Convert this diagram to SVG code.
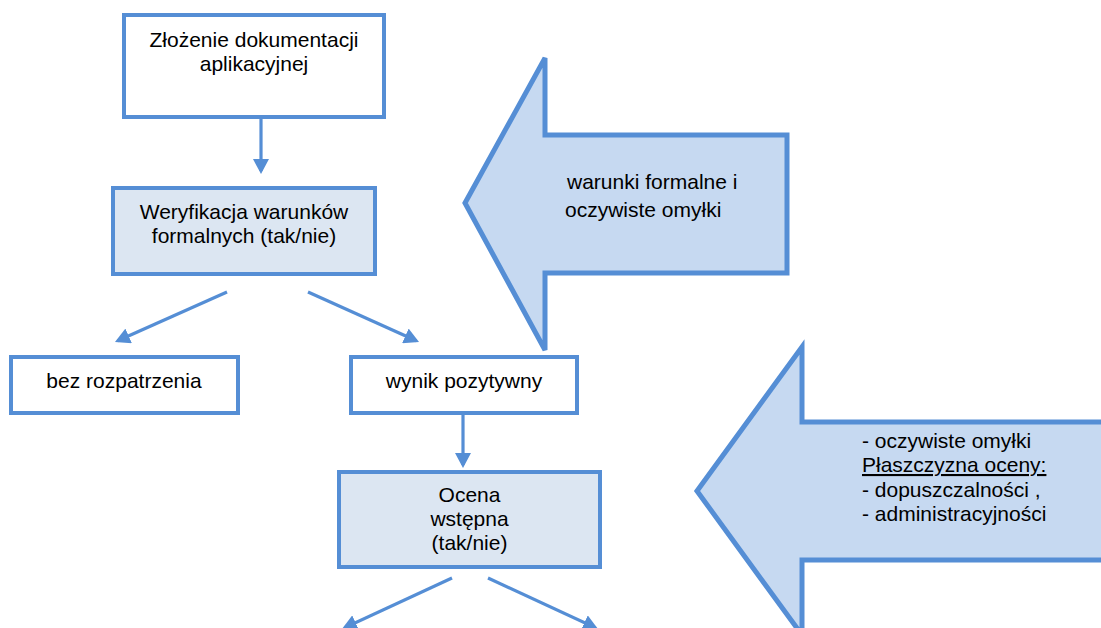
<svg xmlns="http://www.w3.org/2000/svg" width="1101" height="628" viewBox="0 0 1101 628">
<style>
text{font-family:"Liberation Sans",Arial,sans-serif;font-size:21px;fill:#000}
.c{text-anchor:middle}
.box{fill:#fff;stroke:#558ED5;stroke-width:4}
.boxf{fill:#DCE6F2;stroke:#558ED5;stroke-width:4}
.big{fill:#C6D9F1;stroke:#558ED5;stroke-width:5;stroke-linejoin:miter}
.con{stroke:#558ED5;stroke-width:3.2;fill:none}
</style>
<defs>
<marker id="ah" markerUnits="userSpaceOnUse" markerWidth="16" markerHeight="16" refX="12" refY="8" orient="auto">
<path d="M0,0 L15,8 L0,16 z" fill="#558ED5"/>
</marker>
</defs>
<g id="arrow-formal">
<polygon class="big" points="465,203 545,58 545,135 787,135 787,273 545,273 545,350"/>
<text x="567" y="189">warunki formalne i</text>
<text x="565" y="217">oczywiste omyłki</text>
</g>
<g id="arrow-ocena">
<polygon class="big" points="697,491 802,347 802,422 1112,422 1112,560 802,560 802,635"/>
<text x="862" y="448">- oczywiste omyłki</text>
<text x="862" y="472" text-decoration="underline">Płaszczyzna oceny:</text>
<text x="862" y="497">- dopuszczalności ,</text>
<text x="862" y="521">- administracyjności</text>
</g>
<g id="n-zlozenie">
<rect class="box" x="124" y="15" width="260" height="102"/>
<text class="c" x="254" y="47">Złożenie dokumentacji</text>
<text class="c" x="254" y="71">aplikacyjnej</text>
</g>
<g id="n-weryfikacja">
<rect class="boxf" x="113" y="188" width="262" height="86"/>
<text class="c" x="244" y="219">Weryfikacja warunków</text>
<text class="c" x="244" y="243">formalnych (tak/nie)</text>
</g>
<g id="n-bez">
<rect class="box" x="11" y="357" width="227" height="56"/>
<text class="c" x="124" y="388">bez rozpatrzenia</text>
</g>
<g id="n-wynik">
<rect class="box" x="351" y="357" width="226" height="56"/>
<text class="c" x="464" y="388">wynik pozytywny</text>
</g>
<g id="n-ocena">
<rect class="boxf" x="339" y="472" width="261" height="95"/>
<text class="c" x="469.5" y="502">Ocena</text>
<text class="c" x="469.5" y="526">wstępna</text>
<text class="c" x="469.5" y="550">(tak/nie)</text>
</g>
<g id="connectors">
<line class="con" x1="261" y1="119" x2="261" y2="171" marker-end="url(#ah)"/>
<line class="con" x1="227" y1="292" x2="117.7" y2="340.8" marker-end="url(#ah)"/>
<line class="con" x1="308" y1="292" x2="416.3" y2="340.8" marker-end="url(#ah)"/>
<line class="con" x1="463" y1="415" x2="463" y2="465" marker-end="url(#ah)"/>
<line class="con" x1="452" y1="578" x2="344.7" y2="627.7" marker-end="url(#ah)"/>
<line class="con" x1="488" y1="578" x2="595.3" y2="627.7" marker-end="url(#ah)"/>
</g>
</svg>
